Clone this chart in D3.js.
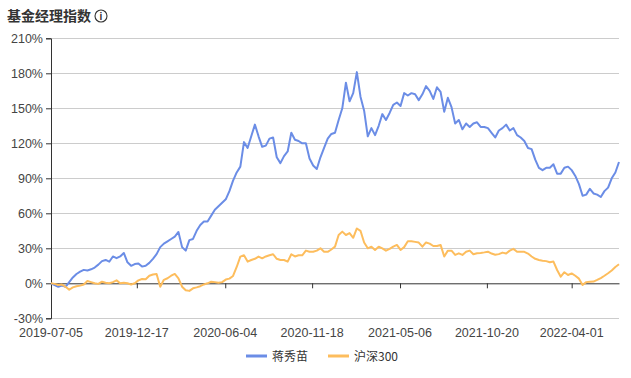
<!DOCTYPE html>
<html><head><meta charset="utf-8">
<script src="https://cdn.jsdelivr.net/npm/d3@7"></script>
<style>body{margin:0;background:#fff}svg{display:block}</style>
</head><body><svg id="c" width="631" height="378"></svg>
<script>
const title = "基金经理指数";
const seriesNames = ["蒋秀苗", "沪深300"];
const seriesColors = ["#6b8de6", "#fdbd5d"];
const startDate = "2019-07-05";
const endDate = "2022-07-01";
const xTickLabels = ["2019-07-05","2019-12-17","2020-06-04","2020-11-18","2021-05-06","2021-10-20","2022-04-01"];
const yTicks = [-30, 0, 30, 60, 90, 120, 150, 180, 210];
// weekly readings (% return)
const managerValues = [
0,-1.5,-3,-2,-3,1,5,8,10,11.5,
11,12,13.5,16,19,20,18.5,23,21.5,23,
26,18,15,16.5,17,14.3,15,17.5,21,25,
31,34,36,38,40,44,31,28,37,38,
45,50,53,53,58,63,66,69,72,79,
88,95,100,121,116,126,136,126,117,118,
124,125,108,103,109,113,129,123,122,120,
120,107,101,98,108,116,124,128,129,140,
150,172,156,163,181,160,148,126,133,127,
135,145,140,146,153,155,152,163,161,163,
162,157,162,169,165,158,168,164,147,159,
151,137,140,132,137,134,137,138,134,134,
133,129,125,131,133,136,131,133,127,125,
122,116,115,106,99,97,99,99,102,94,
94,99,100,97,92,85,75,76,81,77,
76,74,79,82,90,95,104];
const indexValues = [
0,-0.5,-1.4,-1,-3,-5.5,-3.5,-2.5,-2,-1,
2,1,0,-0.5,1.4,0.5,0,1,2.5,0,
0.5,0,-1,0,2.5,3.7,3.4,6.5,7.5,8,
-2.9,3,4.3,6.5,8,4.3,-2.9,-6,-6.5,-4.3,
-3.5,-2.5,-1,0,1.4,1,0.5,1,3.2,4,
6.3,14,22.9,24,18.6,20,21,22.9,21.4,23,
24,24.9,21,20,20,18.6,24.9,23,24,24,
28,27,27,28,30,27,27,29,31.4,41.4,
44.3,41.4,43,39,47,45,35,30,31.4,28.6,
31.4,30,28,29.5,31.5,32.9,28.6,31,36,36,
35.5,34.9,31.4,35,34,32,32,32.9,23,28,
28,24.3,25.7,24.3,27,28,24.9,25.7,26,26.5,
27.1,25.5,24.5,25,26.3,25.5,28,29.5,27.1,27.1,
27,25.5,23,21,20,19.4,19,18,18.6,11.4,
5.7,9.5,7.1,8.5,6.5,4,-1.4,1,1.4,1.5,
2.9,4.5,6.5,8.6,11,14,16.3];

const parse = d3.timeParse("%Y-%m-%d");
const dates = d3.timeFriday.range(parse(startDate), d3.timeDay.offset(parse(endDate), 1));
const svg = d3.select("#c");
const font = "'Noto Sans CJK SC', 'Noto Sans', sans-serif";
const numFont = "'Liberation Sans', Arial, sans-serif";
const L = 51, R = 619, T = 38.3, B = 318.3;
const x = d3.scaleTime().domain([parse(startDate), parse(endDate)]).range([L, R]);
const y = d3.scaleLinear().domain([-30, 210]).range([B, T]);

// title
svg.append("text").attr("x", 7).attr("y", 21).text(title)
  .attr("font-family", font).attr("font-size", 14).attr("font-weight", "bold").attr("fill", "#333");
const ic = svg.append("g").attr("transform", "translate(101,16)");
ic.append("circle").attr("r", 6).attr("fill", "none").attr("stroke", "#333").attr("stroke-width", 1.1);
ic.append("text").attr("text-anchor", "middle").attr("y", 3.8).text("i")
  .attr("font-family", "Arial, sans-serif").attr("font-size", 10).attr("font-weight", "bold").attr("fill", "#333");

// grid
svg.append("g").selectAll("line").data(yTicks.filter(d => d !== 0)).join("line")
  .attr("x1", L).attr("x2", R).attr("y1", d => y(d)).attr("y2", d => y(d))
  .attr("stroke", "#cccccc").attr("stroke-width", 1).attr("shape-rendering", "crispEdges");

// y axis
const yAxis = svg.append("g").attr("transform", `translate(${L},0)`)
  .call(d3.axisLeft(y).tickValues(yTicks).tickFormat(d => d + "%").tickSize(5).tickPadding(3));
yAxis.select(".domain").attr("stroke", "#333");
yAxis.selectAll(".tick line").attr("stroke", "#333");
yAxis.selectAll("text").attr("font-family", numFont).attr("font-size", 12.5).attr("fill", "#444");

// x axis at zero
const xAxis = svg.append("g").attr("transform", `translate(0,${y(0)})`)
  .call(d3.axisBottom(x).tickValues(xTickLabels.map(parse)).tickFormat("").tickSize(5).tickSizeOuter(0));
xAxis.select(".domain").attr("stroke", "#333");
xAxis.selectAll(".tick line").attr("stroke", "#333");
// x labels at bottom
svg.append("g").selectAll("text").data(xTickLabels).join("text")
  .attr("x", d => x(parse(d))).attr("y", B + 19).attr("text-anchor", "middle")
  .text(d => d).attr("font-family", numFont).attr("font-size", 12.5).attr("fill", "#444");

// lines
const series = [managerValues, indexValues];
const line = d3.line().x((d, i) => x(dates[i])).y(d => y(d)).curve(d3.curveLinear);
series.forEach((vals, k) => {
  svg.append("path").datum(vals).attr("d", line).attr("fill", "none")
    .attr("stroke", seriesColors[k]).attr("stroke-width", 2).attr("stroke-linejoin", "round");
});

// legend
const lg = svg.append("g").attr("transform", "translate(246,356)");
const lx = [0, 82];
seriesNames.forEach((n, k) => {
  const g = lg.append("g").attr("transform", `translate(${lx[k]},0)`);
  g.append("line").attr("x1", 0).attr("x2", 21).attr("stroke", seriesColors[k]).attr("stroke-width", 3);
  g.append("text").attr("x", 26).attr("y", 4.5).text(n)
    .attr("font-family", font).attr("font-size", 12).attr("fill", "#333");
});
</script></body></html>
